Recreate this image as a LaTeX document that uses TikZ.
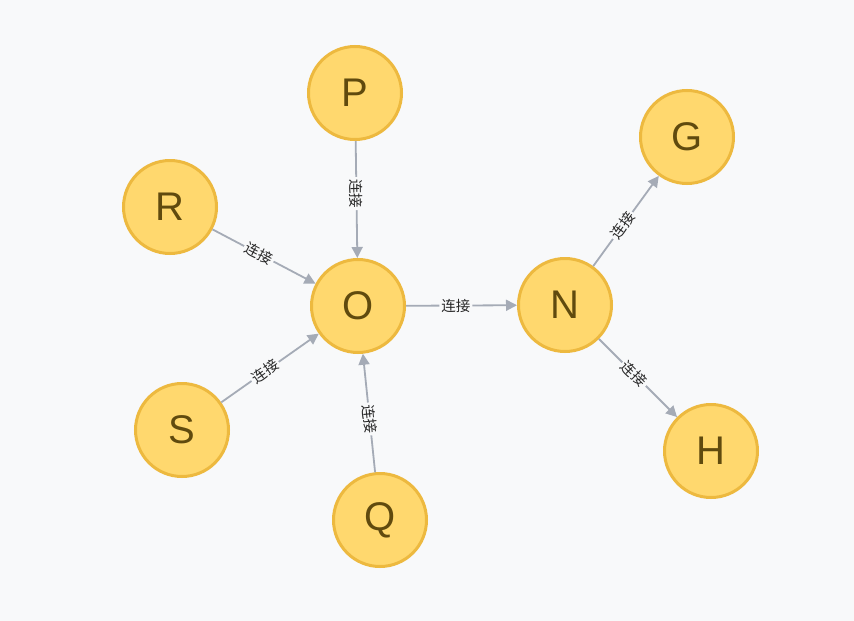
\documentclass[tikz,border=0pt]{standalone}
\usepackage{fontspec}
\setmainfont{Liberation Sans}
\newfontfamily\cjk{Noto Sans CJK SC}
\usetikzlibrary{arrows.meta}
\definecolor{bgc}{HTML}{F8F9FA}
\definecolor{nodefill}{HTML}{FFD86E}
\definecolor{nodeborder}{HTML}{EDB93F}
\definecolor{nodetext}{HTML}{604A0E}
\definecolor{edgec}{HTML}{A5ABB6}
\begin{document}
\begin{tikzpicture}[x=1pt,y=-1pt,
  vert/.style={circle,draw=nodeborder,fill=nodefill,line width=3pt,
    minimum size=93pt,inner sep=0pt,text=nodetext,
    font=\fontsize{40}{40}\selectfont},
  rel/.style={draw=edgec,line width=1.8pt,
    -{Triangle[length=11pt,width=11pt]}},
  rlab/.style={sloped,pos=0.45,fill=bgc,inner sep=2pt,text=black!85,
    font=\cjk\fontsize{14.5}{15}\selectfont}]
\fill[bgc] (0,0) rectangle (854,621);
\useasboundingbox (0,0) rectangle (854,621);
\node[vert] (P) at (355,93) {P};
\node[vert] (R) at (170,207) {R};
\node[vert] (O) at (358,306) {O};
\node[vert] (S) at (182,430) {S};
\node[vert] (Q) at (380,520) {Q};
\node[vert] (N) at (565,305) {N};
\node[vert] (G) at (687,137) {G};
\node[vert] (H) at (711,451) {H};
\draw[rel] (P) -- node[rlab] {连接} (O);
\draw[rel] (R) -- node[rlab] {连接} (O);
\draw[rel] (S) -- node[rlab] {连接} (O);
\draw[rel] (Q) -- node[rlab] {连接} (O);
\draw[rel] (O) -- node[rlab] {连接} (N);
\draw[rel] (N) -- node[rlab] {连接} (G);
\draw[rel] (N) -- node[rlab] {连接} (H);
\end{tikzpicture}
\end{document}
